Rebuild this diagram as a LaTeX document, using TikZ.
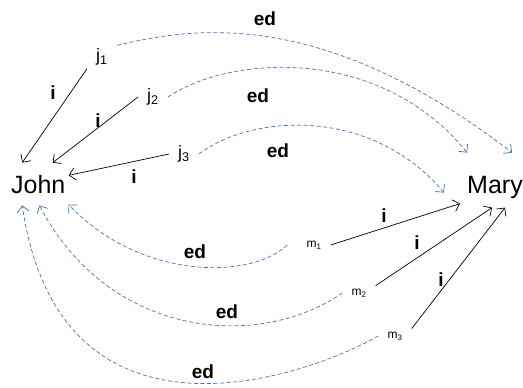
\documentclass[tikz,border=0pt]{standalone}
\usepackage{fontspec}
\setmainfont{Liberation Sans}
\usetikzlibrary{arrows.meta}
\definecolor{edblue}{RGB}{68,114,196}

\begin{document}
\begin{tikzpicture}[x=1pt,y=-1pt,
  person/.style={font=\fontsize{25}{30}\selectfont},
  jvar/.style={inner xsep=9pt,inner ysep=3pt,font=\fontsize{18}{21}\selectfont},
  mvar/.style={inner xsep=9pt,inner ysep=3pt,font=\fontsize{12}{14}\selectfont},
  rel/.style={inner sep=0pt,font=\bfseries\fontsize{19}{22}\selectfont},
  iarr/.style={-{Straight Barb[length=6pt,width=12pt]},line width=0.7pt},
  edarr/.style={-{Straight Barb[length=6pt,width=12pt]},edblue,line width=0.7pt,dash pattern=on 4pt off 2.5pt}]
\useasboundingbox (0,0) rectangle (523,388);
\node[person,inner xsep=3pt,inner ysep=12pt,anchor=base west] (john) at (8,193) {John};
\node[person,inner sep=0pt,anchor=base east] (mary) at (523,193) {Mary};
\node[jvar] (j1) at (102,57) {j\textsubscript{1}};
\node[jvar] (j2) at (153,97) {j\textsubscript{2}};
\node[jvar] (j3) at (184,154) {j\textsubscript{3}};
\node[mvar] (m1) at (314,245) {m\textsubscript{1}};
\node[mvar] (m2) at (359,293) {m\textsubscript{2}};
\node[mvar] (m3) at (395,336) {m\textsubscript{3}};
% i relations
\draw[iarr] (j1.south west) -- (john.127);
\draw[iarr] (j2.west) -- (john.56);
\draw[iarr] (j3.west) -- (john.16);
\draw[iarr] (m1.east) -- ([shift={(-7,28)}]mary.north west);
\draw[iarr] (m2.north east) -- ([shift={(25,32)}]mary.north west);
\draw[iarr] (m3.north east) -- ([shift={(38,32)}]mary.north west);
\node[rel] (i1) at (53,93) {i};
\node[rel] (i2) at (98,121) {i};
\node[rel] (i3) at (134,177) {i};
\node[rel] (i4) at (384,216) {i};
\node[rel] (i5) at (417,243) {i};
\node[rel] (i6) at (441,280) {i};
% ed relations
\draw[edarr] (j1.north east) .. controls (190,28) and (320,5) .. ([shift={(45,-23)}]mary.north west);
\draw[edarr] (j2.east) .. controls (230,55) and (380,45) .. ([shift={(0,-23)}]mary.north west);
\draw[edarr] (j3.east) .. controls (250,115) and (370,105) .. ([shift={(-23,17)}]mary.north west);
\draw[edarr] ([xshift=-10pt]m1.west) .. controls (250,280) and (140,280) .. (john.-34);
\draw[edarr] (m2.west) .. controls (260,350) and (110,340) .. (john.-87);
\draw[edarr] (m3.west) .. controls (300,380) and (60,460) .. (john.233);
\node[rel] (ed1) at (265,19) {ed};
\node[rel] (ed2) at (258,96) {ed};
\node[rel] (ed3) at (278,151) {ed};
\node[rel] (ed4) at (195,252) {ed};
\node[rel] (ed5) at (227,312) {ed};
\node[rel] (ed6) at (203,372) {ed};
\end{tikzpicture}
\end{document}
